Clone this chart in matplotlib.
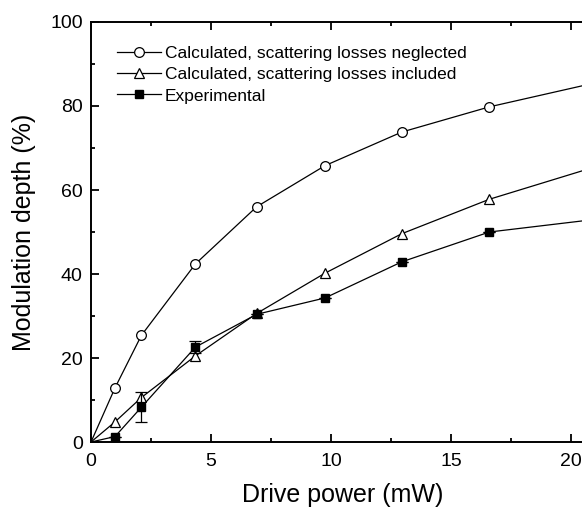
import matplotlib
matplotlib.use("Agg")
import matplotlib.pyplot as plt
from matplotlib.ticker import MultipleLocator

plt.rcParams['font.family'] = ['Liberation Sans', 'DejaVu Sans']

# drive power (mW)
power = [0, 1.0, 2.1, 4.35, 6.9, 9.75, 12.95, 16.6, 21.0]
neglected = [0, 12.9, 25.4, 42.4, 56.0, 65.8, 73.8, 79.8, 85.5]
included = [0, 4.8, 10.6, 20.5, 30.6, 40.2, 49.6, 57.8, 65.5]
experimental = [0, 1.3, 8.3, 22.6, 30.4, 34.3, 42.9, 50.0, 53.0]
exp_err = [0, 0, 3.6, 1.5, 0, 0, 0, 0, 0]

fig = plt.figure(figsize=(5.82, 5.08), dpi=100)
ax = fig.add_axes([0.1564, 0.1299, 0.866, 0.8268])

marked = list(range(1, len(power)))
ax.plot(power, neglected, '-', color='black', lw=0.9, marker='o', ms=7,
        mfc='white', mec='black', mew=0.9, markevery=marked,
        label='Calculated, scattering losses neglected')
ax.plot(power, included, '-', color='black', lw=0.9, marker='^', ms=7,
        mfc='white', mec='black', mew=0.9, markevery=marked,
        label='Calculated, scattering losses included')
ax.plot(power, experimental, '-', color='black', lw=0.9, marker='s', ms=5.5,
        mfc='black', mec='black', markevery=marked,
        label='Experimental')
ax.errorbar(power[1:], experimental[1:], yerr=exp_err[1:], fmt='none',
            ecolor='black', elinewidth=0.9, capsize=4, capthick=0.9)

ax.set_xlim(0, 21)
ax.set_ylim(0, 100)
ax.xaxis.set_major_locator(MultipleLocator(5))
ax.xaxis.set_minor_locator(MultipleLocator(2.5))
ax.yaxis.set_major_locator(MultipleLocator(20))
ax.yaxis.set_minor_locator(MultipleLocator(10))
ax.tick_params(which='both', direction='in', top=True, right=True, width=1.3)
ax.tick_params(which='major', length=6, labelsize=14)
ax.tick_params(axis='x', which='major', pad=8)
ax.tick_params(axis='y', which='major', pad=6)
ax.tick_params(which='minor', length=3)
for s in ax.spines.values():
    s.set_linewidth(1.4)

ax.set_xlabel('Drive power (mW)', fontsize=18, labelpad=9)
ax.set_ylabel('Modulation depth (%)', fontsize=18, labelpad=10)

ax.legend(loc='upper left', bbox_to_anchor=(0.052, 0.943), frameon=False,
          fontsize=12.5, handlelength=2.5, handletextpad=0.25, labelspacing=0.35,
          borderpad=0, borderaxespad=0)

fig.savefig('out.png', dpi=100)
